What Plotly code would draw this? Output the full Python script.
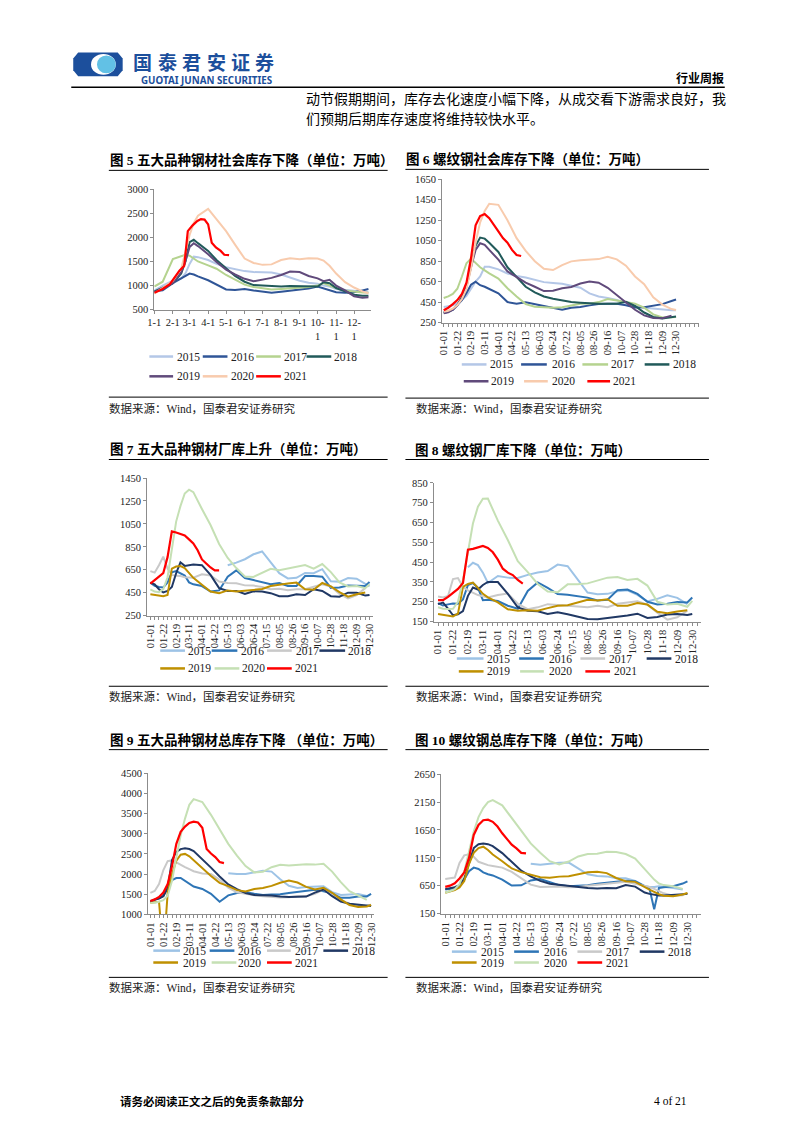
import plotly.graph_objects as go

W, H = 793, 1122

# ---------------- data ----------------
YEARS = ["2015", "2016", "2017", "2018", "2019", "2020", "2021"]
COLORS_A = ["#b4c7e7", "#2f5597", "#b5d38f", "#215a5a", "#604a7b", "#f8cbad", "#ff0000"]
COLORS_B = ["#9dc3e6", "#2e75b6", "#c9c9c9", "#203864", "#bf9000", "#c5e0b4", "#ff0000"]

# Figure 5: x = day of year
F5_TICK_DAYS = [0, 31, 59, 90, 120, 151, 181, 212, 243, 273, 304, 334]
F5_TICK_TEXT = ["1-1", "2-1", "3-1", "4-1", "5-1", "6-1", "7-1", "8-1", "9-1", "10-<br>1", "11-<br>1", "12-<br>1"]
F5_X = [0, 14, 31, 45, 52, 59, 66, 73, 90, 104, 120, 135, 151, 166, 181, 196, 212, 227, 243, 258, 273, 283, 293, 304, 319, 334, 348, 358]
F5_2015 = [900, 1000, 1100, 1150, 1250, 1450, 1600, 1590, 1530, 1450, 1380, 1340, 1300, 1280, 1270, 1270, 1230, 1170, 1100, 1060, 1040, 1000, 980, 930, 910, 890, 880, 860]
F5_2016 = [880, 900, 1050, 1150, 1200, 1250, 1230, 1190, 1110, 1020, 920, 910, 930, 900, 880, 850, 870, 890, 920, 940, 980, 940, 900, 860, 850, 860, 900, 930]
F5_2017 = [980, 1080, 1550, 1620, 1640, 1620, 1550, 1500, 1420, 1350, 1220, 1120, 1020, 970, 950, 920, 930, 940, 950, 970, 1000, 1050, 1000, 950, 900, 870, 855, 850]
F5_2018 = [880, 950, 1050, 1250, 1500, 1900, 1950, 1880, 1720, 1530, 1350, 1200, 1080, 1010, 1000, 990, 980, 990, 990, 990, 980, 1070, 1050, 950, 880, 810, 790, 790]
F5_2019 = [860, 950, 1050, 1280, 1500, 1800, 1880, 1820, 1650, 1490, 1330, 1230, 1140, 1090, 1120, 1160, 1220, 1290, 1280, 1200, 1150, 1090, 1120, 1000, 900, 780, 750, 760]
F5_2020 = [830, 950, 1100, 1350, 1700, 2050, 2300, 2450, 2590, 2380, 2130, 1850, 1560, 1470, 1430, 1440, 1530, 1565, 1545, 1565, 1560, 1520, 1410, 1250, 1070, 960, 880, 840]
F5_X21 = [0, 14, 26, 34, 42, 50, 56, 64, 72, 78, 84, 90, 96, 103, 111, 117, 125]
F5_2021 = [850, 930, 1030, 1170, 1310, 1410, 2130, 2250, 2340, 2380, 2370, 2270, 1890, 1790, 1720, 1640, 1630]

# Figures 6-10: x = week index
WEEK_TICK_POS = [0, 3, 6, 9, 12, 15, 18, 21, 24, 27, 30, 33, 36, 39, 42, 45, 48, 51]
WEEK_LABELS_A = ["01-01", "01-22", "02-19", "03-11", "04-01", "04-22", "05-13", "06-03", "06-24",
                 "07-22", "08-05", "08-26", "09-16", "10-07", "10-28", "11-18", "12-09", "12-30"]
WEEK_LABELS_B = ["01-01", "01-22", "02-19", "03-11", "04-01", "04-22", "05-13", "06-03", "06-24",
                 "07-15", "08-05", "08-26", "09-16", "10-07", "10-28", "11-18", "12-09", "12-30"]
G = [0, 1, 2, 3, 4, 5, 6, 7, 8, 9, 10, 12, 14, 16, 18, 20, 22, 24, 26, 28, 30, 32, 34, 36, 38, 40, 42, 44, 46, 48, 50, 51]
G10 = [0, 1, 2, 3, 4, 5, 6, 7, 8, 9, 10, 12, 14, 16, 18, 20, 22, 24, 26, 28, 30, 32, 34, 36, 38, 40, 42, 43, 44, 45, 46, 48, 50, 51]
W21 = [0, 1, 2, 3, 4, 5, 6, 7, 8, 9, 10, 11, 12, 13, 14, 15, 16, 17]

F6_2015 = [402, 410, 418, 440, 470, 510, 580, 650, 700, 795, 795, 770, 730, 705, 690, 665, 645, 637, 630, 610, 590, 535, 505, 490, 470, 440, 410, 395, 385, 375, 370, 370]
F6_2016 = [353, 360, 375, 420, 470, 540, 620, 650, 615, 600, 580, 535, 450, 434, 448, 430, 415, 400, 375, 395, 402, 418, 432, 434, 434, 420, 398, 400, 412, 430, 460, 475]
F6_2017 = [490, 505, 530, 580, 700, 830, 875, 830, 790, 760, 730, 680, 585, 505, 430, 405, 402, 395, 400, 420, 434, 435, 450, 480, 468, 450, 435, 395, 330, 300, 303, 305]
F6_2018 = [345, 355, 380, 420, 500, 620, 820, 1000, 1080, 1070, 1030, 940, 790, 690, 600, 545, 505, 482, 465, 450, 444, 438, 434, 434, 434, 452, 412, 348, 305, 289, 300, 310]
F6_2019 = [340, 350, 375, 420, 490, 600, 790, 960, 1025, 1010, 960, 865, 750, 695, 640, 600, 558, 560, 585, 597, 632, 650, 640, 590, 520, 445, 375, 320, 295, 293, 318, None]
F6_2020 = [355, 365, 385, 420, 480, 580, 780, 1030, 1230, 1340, 1410, 1400, 1250, 1075, 950, 850, 776, 763, 812, 848, 858, 863, 870, 893, 868, 806, 700, 625, 497, 425, 382, 372]
F6_2021 = [370, 395, 430, 470, 530, 640, 880, 1200, 1290, 1310, 1270, 1200, 1140, 1075, 1030, 960, 910, 900]

F7_2015 = [None, None, None, None, None, None, None, None, None, None, None, None, None, None,
           690, 712, 742, 785, 810, 710, 620, 575, 580, 622, 620, 655, 550, 545, 578, 572, 530, 505]
F7_2016 = [538, 510, 500, 495, 540, 628, 638, 618, 600, 540, 523, 508, 460, 470, 590, 645, 578, 560, 540, 523, 535, 509, 509, 595, 595, 590, 492, 495, 513, 509, 509, 544]
F7_2017 = [638, 625, 690, 765, 660, 605, 597, 595, 585, 581, 581, 610, 600, 548, 535, 533, 514, 512, 500, 480, 484, 472, 480, 480, 500, 523, 505, 440, 400, 430, 490, None]
F7_2018 = [538, 523, 480, 452, 466, 500, 620, 715, 684, 690, 696, 690, 605, 490, 466, 466, 440, 462, 460, 446, 420, 420, 436, 430, 480, 465, 420, 415, 450, 450, 425, 431]
F7_2019 = [437, 430, 425, 420, 430, 660, 678, 682, 665, 625, 580, 520, 460, 445, 470, 460, 468, 478, 482, 509, 522, 530, 538, 480, 476, 535, 505, 455, 415, 437, 452, None]
F7_2020 = [480, 460, 455, 480, 585, 826, 1070, 1205, 1315, 1348, 1327, 1180, 1040, 875, 753, 665, 592, 588, 625, 659, 645, 662, 675, 692, 660, 700, 630, 540, 505, 509, 490, 523]
F7_2021 = [530, 560, 585, 620, 760, 985, 975, 965, 950, 915, 880, 820, 740, 705, 670, 645, 645]

F8_2015 = [None, None, None, None, None, None, 425, 447, 435, 397, 345, 380, 372, 370, 386, 398, 405, 438, 430, 363, 297, 288, 290, 303, 308, 285, 252, 265, 283, 270, 238, None]
F8_2016 = [243, 231, 237, 241, 240, 262, 335, 345, 320, 258, 260, 254, 230, 215, 305, 348, 320, 289, 286, 278, 271, 257, 260, 309, 312, 290, 250, 236, 240, 249, 247, 272]
F8_2017 = [277, 272, 279, 365, 370, 325, 308, 295, 284, 278, 272, 284, 292, 240, 213, 222, 238, 234, 230, 227, 222, 230, 223, 240, 247, 253, 235, 195, 160, 172, 205, None]
F8_2018 = [238, 246, 215, 182, 187, 203, 280, 322, 312, 335, 350, 350, 290, 222, 205, 202, 189, 197, 187, 174, 163, 162, 168, 172, 181, 190, 168, 173, 186, 188, 183, 188]
F8_2019 = [188, 183, 180, 176, 190, 325, 340, 347, 320, 290, 272, 247, 212, 205, 207, 205, 218, 230, 233, 248, 260, 256, 263, 230, 230, 244, 236, 200, 192, 201, 207, None]
F8_2020 = [222, 215, 213, 215, 250, 360, 500, 645, 730, 770, 771, 660, 562, 455, 400, 340, 302, 298, 338, 338, 343, 359, 372, 375, 360, 366, 332, 250, 236, 240, 225, 255]
F8_2021 = [258, 258, 275, 297, 315, 345, 513, 517, 525, 532, 522, 500, 463, 417, 397, 385, 360, 342]

F9_2015 = [None, None, None, None, None, None, None, None, None, None, None, None, None, None,
           2020, 2000, 2000, 2045, 2080, 2060, 1870, 1710, 1656, 1675, 1680, 1697, 1550, 1480, 1492, 1505, 1455, None]
F9_2016 = [1328, 1365, 1400, 1460, 1700, 1850, 1900, 1902, 1830, 1740, 1690, 1630, 1510, 1311, 1470, 1530, 1550, 1510, 1478, 1492, 1500, 1528, 1558, 1580, 1610, 1574, 1520, 1410, 1410, 1440, 1445, 1508]
F9_2017 = [1533, 1580, 1750, 2100, 2320, 2340, 2290, 2225, 2170, 2120, 2070, 2015, 2000, 1860, 1660, 1545, 1505, 1470, 1451, 1426, 1418, 1422, 1451, 1451, 1510, 1615, 1490, 1355, 1262, 1215, 1220, 1235]
F9_2018 = [1300, 1360, 1390, 1450, 1650, 2350, 2550, 2620, 2640, 2620, 2570, 2370, 2160, 1940, 1740, 1625, 1525, 1480, 1475, 1465, 1442, 1428, 1434, 1440, 1540, 1615, 1450, 1315, 1262, 1240, 1205, 1205]
F9_2019 = [1287, 1290, 1310, 0, 1540, 2000, 2330, 2480, 2500, 2440, 2340, 2150, 1950, 1780, 1700, 1600, 1565, 1630, 1652, 1705, 1785, 1836, 1790, 1680, 1615, 1656, 1535, 1370, 1230, 1180, 1195, 1230]
F9_2020 = [1287, 1287, 1310, 1350, 1460, 1830, 2410, 2965, 3377, 3720, 3860, 3790, 3470, 3106, 2750, 2460, 2197, 2040, 2055, 2170, 2228, 2213, 2232, 2246, 2234, 2254, 2060, 1800, 1574, 1470, 1360, None]
F9_2021 = [1330, 1370, 1430, 1540, 1750, 2200, 2750, 3050, 3180, 3270, 3300, 3280, 3150, 2620, 2510, 2420, 2300, 2270]

F10_2015 = [None, None, None, None, None, None, None, None, None, None, None, None, None, None,
            1045, 1025, 1045, 1063, 1065, 955, 855, 825, 818, 783, 786, 736, 645, 630, 628, 641, 633, 611, 584, None]
F10_2016 = [585, 590, 605, 650, 765, 910, 975, 950, 890, 857, 835, 760, 653, 658, 745, 770, 712, 662, 641, 648, 660, 685, 700, 727, 741, 730, 635, 600, 230, 611, 622, 641, 690, 729]
F10_2017 = [770, 785, 798, 1060, 1195, 1214, 1170, 1080, 1045, 1020, 1005, 975, 900, 780, 670, 629, 639, 638, 625, 630, 652, 670, 685, 699, 722, 688, 652, 629, 595, 550, 515, 470, 481, 522]
F10_2018 = [590, 605, 625, 660, 780, 1050, 1325, 1393, 1405, 1395, 1360, 1235, 1075, 920, 818, 738, 686, 665, 644, 626, 611, 600, 611, 608, 665, 635, 530, 505, 490, 477, 475, 482, 498, 505]
F10_2019 = [525, 545, 575, 620, 735, 1040, 1240, 1325, 1350, 1291, 1210, 1090, 960, 895, 845, 802, 792, 814, 820, 850, 892, 900, 877, 790, 730, 720, 620, 580, 540, 498, 472, 463, 495, 522]
F10_2020 = [530, 552, 590, 680, 900, 1270, 1620, 1880, 2040, 2148, 2185, 2090, 1870, 1645, 1409, 1240, 1090, 1034, 1084, 1175, 1220, 1225, 1261, 1255, 1218, 1136, 955, 862, 760, 690, 662, 641, 595, None]
F10_2021 = [630, 652, 695, 780, 890, 1150, 1560, 1740, 1823, 1834, 1795, 1710, 1590, 1480, 1385, 1320, 1240, 1230]

TITLES = ["图 5 五大品种钢材社会库存下降（单位：万吨）",
          "图 6 螺纹钢社会库存下降（单位：万吨）",
          "图 7 五大品种钢材厂库上升（单位：万吨）",
          "图 8 螺纹钢厂库下降（单位：万吨）",
          "图 9 五大品种钢材总库存下降 （单位：万吨）",
          "图 10 螺纹钢总库存下降（单位：万吨）"]
SOURCE = "数据来源：Wind，国泰君安证券研究"
BODY_1 = "动节假期期间，库存去化速度小幅下降，从成交看下游需求良好，我"
BODY_2 = "们预期后期库存速度将维持较快水平。"
FOOTER = "请务必阅读正文之后的免责条款部分"
PAGE = "4 of 21"

# ---------------- layout helpers ----------------
SERIF = "Liberation Serif, Noto Sans CJK SC"
CJK = "Liberation Serif, Noto Sans CJK SC"
AXIS = "#8c8c8c"
TXT = "#222222"


def fx(x):
    return x / W


def fy(y):
    return 1 - y / H


shapes = []
annotations = []


def hline(x0, x1, y, color="#000000", width=1.0):
    shapes.append(dict(type="line", xref="paper", yref="paper", x0=fx(x0), x1=fx(x1),
                       y0=fy(y), y1=fy(y), line=dict(color=color, width=width)))


def label(x, y, s, size, color="#000000", family=CJK, xanchor="left", bold=False):
    annotations.append(dict(xref="paper", yref="paper", x=fx(x), y=fy(y),
                            text=("<b>%s</b>" % s) if bold else s, showarrow=False,
                            xanchor=xanchor, yanchor="middle", borderpad=0,
                            font=dict(size=size, color=color, family=family)))


CHARTS = [
    dict(x=F5_X, series=[F5_2015, F5_2016, F5_2017, F5_2018, F5_2019, F5_2020], x21=F5_X21, s21=F5_2021,
         colors=COLORS_A, xpx=(149, 368), ypx=(186, 307.7), xr=(0, 362), yr=(500, 3000), dy=500,
         tv=F5_TICK_DAYS, tt=F5_TICK_TEXT, angle=0, minor=False,
         title=(103, 157), rule=(103, 385, 167), src_rule=(103, 385, 396), src=(102, 407),
         leg=[(355, [(144, 168, 171), (198, 223, 226), (252, 277, 279), (303, 328, 330)]),
              (375, [(144, 168, 171), (198, 223, 226), (252, 277, 279)])]),
    dict(x=G, series=[F6_2015, F6_2016, F6_2017, F6_2018, F6_2019, F6_2020], x21=W21, s21=F6_2021,
         colors=COLORS_A, xpx=(440, 700), ypx=(176, 320.7), xr=(-0.37, 56.05), yr=(250, 1650), dy=200,
         tv=WEEK_TICK_POS, tt=WEEK_LABELS_A, angle=-90, minor=True,
         title=(403, 156), rule=(403, 710, 166), src_rule=(403, 710, 397), src=(413, 407),
         leg=[(363, [(460, 485, 488), (520, 546, 550), (582, 608, 610), (645, 670, 673)]),
              (380, [(462, 487, 489), (523, 547, 550), (587, 610, 612)])]),
    dict(x=G, series=[F7_2015, F7_2016, F7_2017, F7_2018, F7_2019, F7_2020], x21=W21[:len(F7_2021)], s21=F7_2021,
         colors=COLORS_B, xpx=(141.7, 370), ypx=(477.7, 616.7), xr=(-0.76, 51.76), yr=(250, 1450), dy=200,
         tv=WEEK_TICK_POS, tt=WEEK_LABELS_B, angle=-90, minor=True,
         title=(103, 448), rule=(103, 385, 459), src_rule=(103, 385, 688), src=(102, 698),
         leg=[(652, [(155, 180, 182), (207, 233, 236), (263, 288, 291), (316, 342, 344)]),
              (670, [(155, 180, 182), (210, 235, 237), (263, 288, 290)])]),
    dict(x=G, series=[F8_2015, F8_2016, F8_2017, F8_2018, F8_2019, F8_2020], x21=W21, s21=F8_2021,
         colors=COLORS_B, xpx=(431.7, 701.7), ypx=(482.7, 622.7), xr=(-0.85, 52.7), yr=(150, 850), dy=100,
         tv=WEEK_TICK_POS, tt=WEEK_LABELS_B, angle=-90, minor=True,
         title=(412, 449), rule=(403, 710, 459), src_rule=(403, 710, 688), src=(413, 698),
         leg=[(660, [(455, 482, 484), (518, 543, 547), (580, 605, 608), (647, 672, 675)]),
              (673, [(457, 482, 484), (519, 543, 547), (585, 610, 613)])]),
    dict(x=G, series=[F9_2015, F9_2016, F9_2017, F9_2018, F9_2019, F9_2020], x21=W21, s21=F9_2021,
         colors=COLORS_B, xpx=(142.7, 371.7), ypx=(776, 918.3), xr=(-0.53, 51.78), yr=(1000, 4500), dy=500,
         tv=WEEK_TICK_POS, tt=WEEK_LABELS_A, angle=-90, minor=True,
         title=(103, 742), rule=(103, 385, 752), src_rule=(103, 385, 982), src=(102, 992),
         leg=[(955, [(148, 175, 177), (205, 230, 233), (263, 287, 290), (320, 345, 348)]),
              (967, [(148, 173, 177), (207, 232, 233), (263, 288, 290)])]),
    dict(x=G10, series=[F10_2015, F10_2016, F10_2017, F10_2018, F10_2019, F10_2020], x21=W21, s21=F10_2021,
         colors=COLORS_B, xpx=(439.3, 701.7), ypx=(776.7, 917.7), xr=(-0.83, 53.8), yr=(150, 2650), dy=500,
         tv=WEEK_TICK_POS, tt=WEEK_LABELS_A, angle=-90, minor=True,
         title=(412, 742), rule=(403, 710, 752), src_rule=(403, 710, 982), src=(413, 992),
         leg=[(956, [(450, 475, 478), (513, 538, 542), (577, 602, 605), (640, 665, 668)]),
              (967, [(450, 475, 478), (513, 538, 542), (577, 602, 605)])]),
]

fig = go.Figure()
layout_axes = {}

for k, c in enumerate(CHARTS, start=1):
    s = "" if k == 1 else str(k)
    xa = dict(domain=[fx(c["xpx"][0]), fx(c["xpx"][1])], range=list(c["xr"]), anchor="y" + s,
              showline=True, linecolor=AXIS, linewidth=1, showgrid=False, zeroline=False,
              ticks="outside", ticklen=3, tickcolor=AXIS, tickmode="array",
              tickvals=c["tv"], ticktext=c["tt"], tickangle=c["angle"],
              tickfont=dict(family=SERIF, size=10.5, color=TXT), fixedrange=True)
    if c["minor"]:
        xa["minor"] = dict(tickmode="linear", tick0=0, dtick=1, ticks="outside", ticklen=3, tickcolor=AXIS)
    ya = dict(domain=[fy(c["ypx"][1]), fy(c["ypx"][0])], range=list(c["yr"]), anchor="x" + s,
              showline=True, linecolor=AXIS, linewidth=1, showgrid=False, zeroline=False,
              ticks="outside", ticklen=3, tickcolor=AXIS, tickmode="linear", tick0=c["yr"][0],
              dtick=c["dy"], tickformat="d", tickfont=dict(family=SERIF, size=10.5, color=TXT),
              fixedrange=True)
    layout_axes["xaxis" + s] = xa
    layout_axes["yaxis" + s] = ya

    for yr, col, ys in zip(YEARS[:6], c["colors"], c["series"]):
        fig.add_trace(go.Scatter(x=c["x"], y=ys, mode="lines", name=yr,
                                 line=dict(color=col, width=2), xaxis="x" + s, yaxis="y" + s))
    fig.add_trace(go.Scatter(x=c["x21"], y=c["s21"], mode="lines", name=YEARS[6],
                             line=dict(color=c["colors"][6], width=2.2), xaxis="x" + s, yaxis="y" + s))

    # title, rules, source
    label(c["title"][0], c["title"][1], TITLES[k - 1], 13.5, bold=True)
    hline(c["rule"][0], c["rule"][1], c["rule"][2])
    hline(c["src_rule"][0], c["src_rule"][1], c["src_rule"][2])
    label(c["src"][0], c["src"][1], SOURCE, 11.5, color=TXT)

    # manual legend
    idx = 0
    for ly, items in c["leg"]:
        for (lx0, lx1, tx) in items:
            hline(lx0, lx1, ly, color=c["colors"][idx], width=2.5)
            label(tx, ly, YEARS[idx], 11.5, color=TXT, family=SERIF)
            idx += 1

# ---------------- header / footer ----------------
LOGO_DARK = "#1c4f9c"
LOGO_LIGHT = "#62c1e5"
oct_pts = [(67, 54), (72, 48), (112, 48), (117, 54), (117, 66), (112, 72), (72, 72), (67, 66)]
path = "M " + " L ".join("%f,%f" % (fx(a), fy(b)) for a, b in oct_pts) + " Z"
shapes.append(dict(type="path", xref="paper", yref="paper", path=path,
                   fillcolor=LOGO_DARK, line=dict(width=0)))
shapes.append(dict(type="circle", xref="paper", yref="paper", x0=fx(85), x1=fx(110), y0=fy(70.5), y1=fy(49.5),
                   fillcolor="#ffffff", line=dict(width=0)))
shapes.append(dict(type="circle", xref="paper", yref="paper", x0=fx(91), x1=fx(110), y0=fy(69), y1=fy(51),
                   fillcolor=LOGO_LIGHT, line=dict(width=0)))

BRAND = "国泰君安证券"
for i, ch in enumerate(BRAND):
    label(137.3 + i * 24.7, 57, ch, 19, color=LOGO_DARK, family="Noto Sans CJK SC", xanchor="center", bold=True)
label(202, 76.5, "GUOTAI JUNAN SECURITIES", 9.8, color=LOGO_DARK, family="Noto Sans", xanchor="center", bold=True)
label(726, 73, "行业周报", 12, family="Noto Sans CJK SC", xanchor="right", bold=True)
hline(65, 726, 83, width=1.5)

label(301, 94, BODY_1, 14, family="Noto Sans CJK SC")
label(301, 114, BODY_2, 14, family="Noto Sans CJK SC")

label(113, 1107, FOOTER, 11.5, family="Noto Sans CJK SC", bold=True)
label(653, 1107, PAGE, 11.5, family="Liberation Serif")

fig.update_layout(width=W, height=H, margin=dict(l=0, r=0, t=0, b=0), autosize=False,
                  paper_bgcolor="#ffffff", plot_bgcolor="#ffffff", showlegend=False,
                  shapes=shapes, annotations=annotations, **layout_axes)

fig.write_html("out.html", config={"displayModeBar": False},
               post_script="document.body.style.margin='0';document.body.style.overflow='hidden';")
